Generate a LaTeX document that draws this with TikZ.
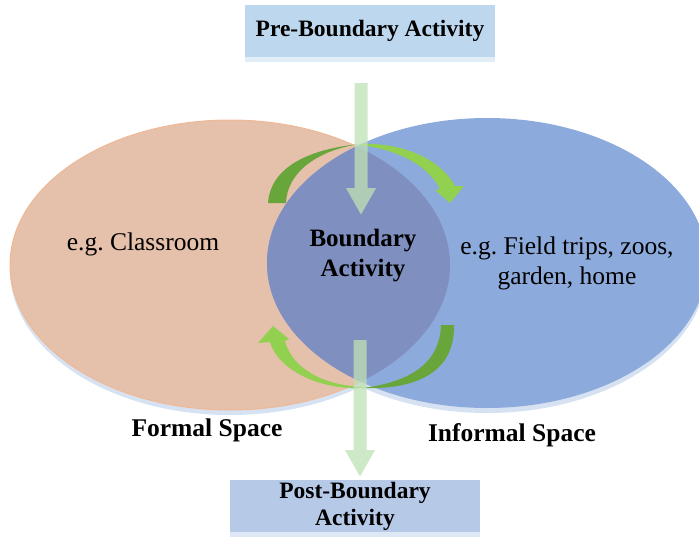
\documentclass[tikz,border=0pt]{standalone}
\usepackage{fontspec}
\setmainfont{Liberation Serif}
\usetikzlibrary{arrows.meta,positioning}
\frenchspacing
\definecolor{formalfill}{RGB}{229,192,170}
\definecolor{formalrim}{RGB}{240,185,150}
\definecolor{informalfill}{RGB}{141,170,220}
\definecolor{lensfill}{RGB}{127,143,191}
\definecolor{reflectblue}{RGB}{214,226,242}
\definecolor{prefill}{RGB}{189,215,238}
\definecolor{postfill}{RGB}{182,202,232}
\definecolor{flowgreen}{RGB}{190,225,180}
\definecolor{darkgreen}{RGB}{104,165,58}
\definecolor{lightgreen}{RGB}{146,208,80}
\tikzset{
  actbox/.style={inner sep=0pt,minimum width=250pt,minimum height=52pt,align=center,
    font=\bfseries\fontsize{23.5}{27}\selectfont},
  spacetxt/.style={align=center,font=\fontsize{25.5}{30}\selectfont},
  flow/.style={draw=flowgreen,line width=13pt,-{Triangle[width=28pt,length=27pt]}}
}

\begin{document}
\begin{tikzpicture}[x=1pt,y=-1pt]
\useasboundingbox (0,0) rectangle (699,538);
% soft reflections under the two spaces
\fill[reflectblue] (230,270) ellipse [x radius=220,y radius=145];
\fill[reflectblue] (487,268) ellipse [x radius=220,y radius=145];
% formal space, informal space and their overlap
\filldraw[fill=formalfill,draw=formalrim,line width=1pt] (230,265) ellipse [x radius=220,y radius=145];
\fill[informalfill] (487,263) ellipse [x radius=220,y radius=145];
\begin{scope}
\clip (230,265) ellipse [x radius=220,y radius=145];
\fill[lensfill] (487,263) ellipse [x radius=220,y radius=145];
\end{scope}
%
\fill[prefill!45] (245,57) rectangle (495,62);
\fill[postfill!45] (230,532) rectangle (480,537);
\node (pre) [actbox,fill=prefill] at (370,31) {Pre-Boundary Activity};
\node (post) [actbox,fill=postfill] at (355,506) {Post-Boundary\\Activity};
%
\node (classroom) [spacetxt] at (143,244) {e.g. Classroom};
\node (field) [spacetxt] at (567,263) {e.g. Field trips, zoos,\\garden, home};
\node (boundary) [spacetxt,font=\bfseries\fontsize{25}{30}\selectfont] at (363,256) {Boundary\\Activity};
\node (formal) [spacetxt,font=\bfseries\fontsize{25.5}{30}\selectfont] at (207,430) {Formal Space};
\node (informal) [spacetxt,font=\bfseries\fontsize{25.5}{30}\selectfont] at (512,435) {Informal Space};
% green loops across the boundary
\fill[darkgreen] (268,203) .. controls (270,172) and (300,150) .. (360,144)
  .. controls (318,150) and (287,172) .. (286,203) -- cycle;
\fill[lightgreen] (360,144) .. controls (400,142) and (440,158) .. (455,186)
  -- (464,186) -- (450,203) -- (435,190) -- (440,189)
  .. controls (428,166) and (400,150) .. (360,145) -- cycle;
\fill[darkgreen] (454,325) .. controls (455,370) and (420,390) .. (362,388)
  .. controls (412,382) and (440,362) .. (441,325) -- cycle;
\fill[lightgreen] (362,388) .. controls (320,390) and (278,370) .. (270,342)
  -- (258,343) -- (273,326) -- (289,339) -- (285,341)
  .. controls (292,368) and (322,385) .. (362,387) -- cycle;
% flow in and out of the boundary activity
\coordinate (preTail) at (361,83);
\coordinate (preTip) at (361,215);
\coordinate (postTail) at (360,340);
\coordinate (postTip) at (360,477);
\begin{scope}[transparency group,opacity=0.75]
\draw[flow] (preTail) -- (preTip);
\end{scope}
\begin{scope}[transparency group,opacity=0.75]
\draw[flow] (postTail) -- (postTip);
\end{scope}
\end{tikzpicture}
\end{document}
